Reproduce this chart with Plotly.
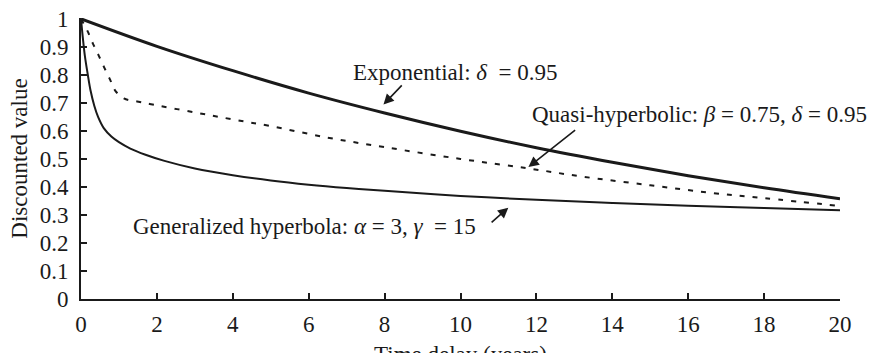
import plotly.graph_objects as go

# Exponential discounting (delta = 0.95)
exp_t = [0, 2, 4, 6, 8, 10, 12, 14, 16, 18, 20]
exp_v = [1.0, 0.902, 0.815, 0.735, 0.664, 0.599, 0.540, 0.488, 0.440, 0.397, 0.358]

# Quasi-hyperbolic discounting (beta = 0.75, delta = 0.95)
qh_t = [0, 0.17, 0.32, 0.47, 0.61, 0.76, 0.9, 1.13, 1.48, 1.81, 3, 4, 5, 6.5, 8, 10, 11.8, 13.2, 15, 16.6, 18, 20]
qh_v = [1.0, 0.957, 0.91, 0.868, 0.827, 0.785, 0.744, 0.716, 0.705, 0.696, 0.666, 0.641, 0.617, 0.576, 0.542, 0.500, 0.466, 0.437, 0.406, 0.379, 0.360, 0.332]

# Generalized hyperbola (alpha = 3, gamma = 15)
gh_t = [0, 0.05, 0.1, 0.18, 0.25, 0.35, 0.45, 0.6, 0.8, 1.0, 1.3, 1.7, 2.2, 3, 4, 5, 6, 7, 8, 10, 12, 14, 16, 18, 20]
gh_v = [1.0, 0.93, 0.87, 0.80, 0.745, 0.69, 0.65, 0.61, 0.58, 0.56, 0.537, 0.515, 0.493, 0.466, 0.442, 0.423, 0.408, 0.396, 0.386, 0.368, 0.354, 0.343, 0.333, 0.325, 0.317]

x_ticks = [0, 2, 4, 6, 8, 10, 12, 14, 16, 18, 20]
y_ticks = [0, 0.1, 0.2, 0.3, 0.4, 0.5, 0.6, 0.7, 0.8, 0.9, 1]

x_title = "Time delay (years)"
y_title = "Discounted value"

FONT = "Liberation Serif"
INK = "#1a1a1a"

fig = go.Figure()
fig.add_trace(go.Scatter(x=exp_t, y=exp_v, mode="lines",
                         line=dict(color=INK, width=3, shape="spline"), showlegend=False))
fig.add_trace(go.Scatter(x=qh_t, y=qh_v, mode="lines",
                         line=dict(color=INK, width=2, dash="5px,8px", shape="spline"), showlegend=False))
fig.add_trace(go.Scatter(x=gh_t, y=gh_v, mode="lines",
                         line=dict(color=INK, width=2, shape="spline"), showlegend=False))

labels = [
    dict(text="Exponential: <i>δ</i>  = 0.95", x=9.85, y=0.81),
    dict(text="Quasi-hyperbolic: <i>β</i> = 0.75, <i>δ</i> = 0.95", x=16.3, y=0.66),
    dict(text="Generalized hyperbola: <i>α</i> = 3, <i>γ</i>  = 15", x=5.9, y=0.26),
]
arrows = [
    dict(tail=(8.49, 0.768), tip=(7.97, 0.694)),
    dict(tail=(13.06, 0.607), tip=(11.79, 0.471)),
    dict(tail=(10.78, 0.269), tip=(11.26, 0.326)),
]

for lab in labels:
    fig.add_annotation(text=lab["text"], x=lab["x"], y=lab["y"], xref="x", yref="y",
                       showarrow=False, font=dict(family=FONT, size=23, color=INK))
for a in arrows:
    fig.add_annotation(text="", x=a["tip"][0], y=a["tip"][1], ax=a["tail"][0], ay=a["tail"][1],
                       xref="x", yref="y", axref="x", ayref="y", showarrow=True,
                       arrowhead=2, arrowsize=1.3, arrowwidth=1.6, arrowcolor=INK)

# x-axis title (partly cut off at the bottom edge, as in the reference)
fig.add_annotation(text=x_title, x=0.5, y=0, xref="paper", yref="paper",
                   xanchor="center", yanchor="top", yshift=-41, showarrow=False,
                   font=dict(family=FONT, size=23, color=INK))

fig.update_layout(
    width=885, height=353,
    margin=dict(l=81, r=45, t=18, b=54),
    paper_bgcolor="white", plot_bgcolor="white",
    font=dict(family=FONT, size=23, color=INK),
    xaxis=dict(range=[0, 20], tickvals=x_ticks, ticks="inside", ticklen=6, tickwidth=1.5,
               tickcolor=INK, showline=True, linecolor=INK, linewidth=1.8, showgrid=False,
               zeroline=False, ticklabelstandoff=3, automargin=False,
               tickfont=dict(family=FONT, size=23)),
    yaxis=dict(range=[0, 1.003], tickvals=y_ticks, ticks="inside", ticklen=6, tickwidth=1.5,
               tickcolor=INK, showline=True, linecolor=INK, linewidth=1.8, showgrid=False,
               zeroline=False, ticklabelstandoff=6, automargin=False,
               tickfont=dict(family=FONT, size=23),
               title=dict(text=y_title, font=dict(family=FONT, size=23), standoff=6)),
)

fig.write_html("out.html")
